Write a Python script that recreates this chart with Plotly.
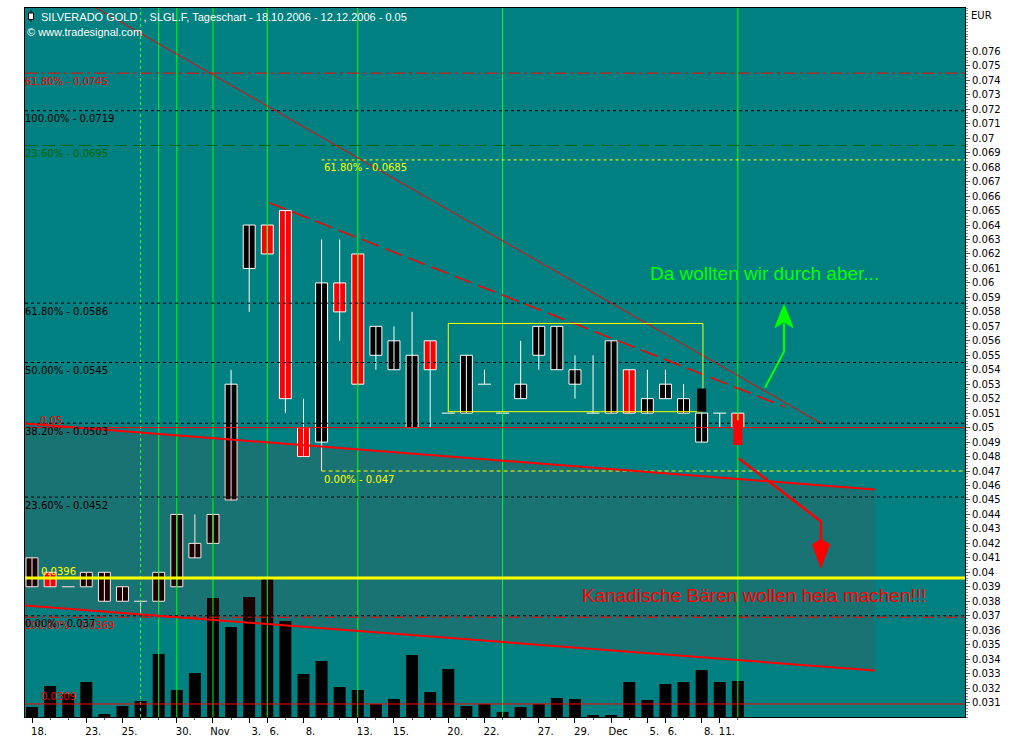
import plotly.graph_objects as go

# ---------------- data ----------------
dates = ["2006-10-18", "2006-10-19", "2006-10-20", "2006-10-23", "2006-10-24", "2006-10-25",
         "2006-10-26", "2006-10-27", "2006-10-30", "2006-10-31", "2006-11-01", "2006-11-02",
         "2006-11-03", "2006-11-06", "2006-11-07", "2006-11-08", "2006-11-09", "2006-11-10",
         "2006-11-13", "2006-11-14", "2006-11-15", "2006-11-16", "2006-11-17", "2006-11-20",
         "2006-11-21", "2006-11-22", "2006-11-23", "2006-11-24", "2006-11-27", "2006-11-28",
         "2006-11-29", "2006-11-30", "2006-12-01", "2006-12-04", "2006-12-05", "2006-12-06",
         "2006-12-07", "2006-12-08", "2006-12-11", "2006-12-12"]
open_ = [0.039, 0.040, 0.039, 0.039, 0.038, 0.038, 0.038, 0.038, 0.039, 0.041,
         0.042, 0.045, 0.061, 0.064, 0.065, 0.050, 0.049, 0.060, 0.062, 0.055,
         0.054, 0.050, 0.056, 0.051, 0.051, 0.053, 0.051, 0.052, 0.055, 0.054,
         0.053, 0.051, 0.051, 0.054, 0.051, 0.052, 0.051, 0.049, 0.051, 0.051]
high = [0.041, 0.040, 0.039, 0.040, 0.040, 0.039, 0.038, 0.040, 0.044, 0.044,
        0.044, 0.054, 0.064, 0.064, 0.065, 0.052, 0.063, 0.063, 0.062, 0.057,
        0.057, 0.058, 0.056, 0.051, 0.055, 0.054, 0.051, 0.056, 0.057, 0.057,
        0.055, 0.055, 0.056, 0.054, 0.054, 0.054, 0.053, 0.051, 0.051, 0.051]
low = [0.039, 0.039, 0.039, 0.039, 0.038, 0.038, 0.037, 0.038, 0.039, 0.041,
       0.042, 0.045, 0.058, 0.062, 0.051, 0.048, 0.047, 0.056, 0.053, 0.054,
       0.054, 0.050, 0.050, 0.051, 0.051, 0.053, 0.051, 0.052, 0.054, 0.054,
       0.052, 0.051, 0.051, 0.051, 0.051, 0.052, 0.051, 0.049, 0.050, 0.050]
close = [0.041, 0.039, 0.039, 0.040, 0.040, 0.039, 0.038, 0.040, 0.044, 0.042,
         0.044, 0.053, 0.064, 0.062, 0.052, 0.048, 0.060, 0.058, 0.053, 0.057,
         0.056, 0.055, 0.054, 0.051, 0.055, 0.053, 0.051, 0.053, 0.057, 0.057,
         0.054, 0.051, 0.056, 0.051, 0.052, 0.053, 0.052, 0.051, 0.051, 0.050]
volume_k = [10, 31, 23, 35, 3, 11, 16, 63, 27, 44, 119, 90, 120, 140, 96, 43, 56, 30, 27, 13,
            18, 62, 25, 48, 11, 13, 5, 10, 13, 19, 18, 2, 2, 35, 17, 33, 35, 47, 35, 36]

tick_dates = ["2006-10-18", "2006-10-23", "2006-10-25", "2006-10-30", "2006-11-01", "2006-11-03",
              "2006-11-06", "2006-11-08", "2006-11-13", "2006-11-15", "2006-11-20", "2006-11-22",
              "2006-11-27", "2006-11-29", "2006-12-01", "2006-12-05", "2006-12-06", "2006-12-08",
              "2006-12-11"]
tick_text = ["18.", "23.", "25.", "30.", "Nov", "3.", "6.", "8.", "13.", "15.", "20.", "22.",
             "27.", "29.", "Dec", "5.", "6.", "8.", "11."]

marker_dates = ["2006-10-27", "2006-10-30", "2006-11-01", "2006-11-06", "2006-11-13",
                "2006-11-23", "2006-12-12"]
dashed_marker_dates = ["2006-10-26"]

fib_levels = [0.0745, 0.0719, 0.0695, 0.0685, 0.0586, 0.0545, 0.0503, 0.05, 0.047,
              0.0452, 0.0396, 0.0369, 0.037, 0.0309]
fib_labels = ["61.80% - 0.0745", "100.00% - 0.0719", "23.60% - 0.0695", "61.80% - 0.0685",
              "61.80% - 0.0586", "50.00% - 0.0545", "38.20% - 0.0503", "0.05", "0.00% - 0.047",
              "23.60% - 0.0452", "0.0396", "100.00% - 0.0369", "0.00% - 0.037", "0.0309"]

# drawing-tool anchors: (date index, price)
trend_a = [(3.48, 0.07905), (43.65, 0.05026)]
trend_b = [(13.09, 0.06555), (41.6, 0.05143)]
channel_up = [(-0.39, 0.05029), (46.57, 0.04572)]
channel_dn = [(-0.39, 0.03771), (46.57, 0.03321)]
box = [(23, 0.0511), (37.07, 0.0572)]

# ---------------- styles ----------------
RED = "#ff0000"
YEL = "#ffff00"
GRN = "#00ff00"
DKG = "#006400"
BLK = "#000000"
DASH = "3px,3px"
FONT = "DejaVu Sans"

level_style = {
    0.0745: dict(color=RED, dash="12px,4px,3px,4px", width=1, start=None, lab="below", lx=None),
    0.0719: dict(color=BLK, dash=DASH, width=1, start=None, lab="below", lx=None),
    0.0695: dict(color=DKG, dash="12px,6px", width=1, start=None, lab="below", lx=None),
    0.0685: dict(color=YEL, dash=DASH, width=1, start=16, lab="below", lx=16),
    0.0586: dict(color=BLK, dash=DASH, width=1, start=None, lab="below", lx=None),
    0.0545: dict(color=BLK, dash=DASH, width=1, start=None, lab="below", lx=None),
    0.0503: dict(color=BLK, dash=DASH, width=1, start=None, lab="below", lx=None),
    0.05: dict(color=RED, dash="solid", width=1, start=None, lab="above", lx=0.35),
    0.047: dict(color=YEL, dash="4px,3px", width=1, start=16, lab="below", lx=16),
    0.0452: dict(color=BLK, dash=DASH, width=1, start=None, lab="below", lx=None),
    0.0396: dict(color=YEL, dash="solid", width=3, start=None, lab="above", lx=0.4),
    0.0369: dict(color=RED, dash="12px,4px,3px,4px", width=1, start=None, lab="below", lx=None),
    0.037: dict(color=BLK, dash=DASH, width=1, start=None, lab="below", lx=None),
    0.0309: dict(color=RED, dash="solid", width=1, start=None, lab="above", lx=0.4),
}

n = len(dates)
xi = list(range(n))
pos = {d: i for i, d in enumerate(dates)}
XMIN, XMAX = -0.387, 51.55
BODY_W = 0.66

fig = go.Figure()

# volume
fig.add_trace(go.Bar(x=xi, y=volume_k, yaxis="y2", width=BODY_W,
                     marker=dict(color=BLK, line=dict(width=0)), hoverinfo="skip"))

# wicks
wx, wy = [], []
for i in xi:
    if high[i] > low[i]:
        wx += [i, i, None]
        wy += [low[i], high[i], None]
fig.add_trace(go.Scatter(x=wx, y=wy, mode="lines", line=dict(color="white", width=1),
                         hoverinfo="skip"))

# bodies
bx, bh, bb, bc = [], [], [], []
dx, dy = [], []
for i in xi:
    if close[i] != open_[i]:
        bx.append(i)
        bh.append(abs(close[i] - open_[i]))
        bb.append(min(open_[i], close[i]))
        bc.append(BLK if close[i] > open_[i] else RED)
    else:
        dx += [i - 0.36, i + 0.36, None]
        dy += [open_[i], open_[i], None]
fig.add_trace(go.Bar(x=bx, y=bh, base=bb, width=BODY_W,
                     marker=dict(color=bc, line=dict(color="white", width=1)), hoverinfo="skip"))
fig.add_trace(go.Scatter(x=dx, y=dy, mode="lines", line=dict(color="white", width=1),
                         hoverinfo="skip"))

shapes = []
# shaded channel (semi transparent red overlay)
shapes.append(dict(type="path", xref="x", yref="y", layer="above",
                   path=f"M {channel_up[0][0]},{channel_up[0][1]} L {channel_up[1][0]},{channel_up[1][1]} "
                        f"L {channel_dn[1][0]},{channel_dn[1][1]} L {channel_dn[0][0]},{channel_dn[0][1]} Z",
                   fillcolor="rgba(255,0,0,0.1)", line=dict(width=0)))

# vertical markers
for d in marker_dates:
    shapes.append(dict(type="line", xref="x", yref="paper", x0=pos[d], x1=pos[d], y0=0, y1=1,
                       layer="above", line=dict(color=GRN, width=1)))
for d in dashed_marker_dates:
    shapes.append(dict(type="line", xref="x", yref="paper", x0=pos[d], x1=pos[d], y0=0, y1=1,
                       layer="above", line=dict(color="#33ff33", width=1, dash="3px,3px")))

# horizontal levels
annotations = []
for lvl, lab in zip(fib_levels, fib_labels):
    st = level_style[lvl]
    x0 = st["start"] if st["start"] is not None else XMIN
    shapes.append(dict(type="line", xref="x", yref="y", x0=x0, x1=XMAX, y0=lvl, y1=lvl,
                       layer="above", line=dict(color=st["color"], width=st["width"], dash=st["dash"])))
    lab_col = st["color"]
    if st["lx"] is None:
        ax = dict(xref="paper", x=0, xshift=-2)
    else:
        ax = dict(xref="x", x=st["lx"])
    annotations.append(dict(text=lab, yref="y", y=lvl, xanchor="left", yanchor="middle",
                            yshift=-8 if st["lab"] == "below" else 7, showarrow=False,
                            font=dict(family=FONT, size=10, color=lab_col), **ax))

# trend lines
shapes.append(dict(type="line", xref="x", yref="y", x0=trend_a[0][0], y0=trend_a[0][1],
                   x1=trend_a[1][0], y1=trend_a[1][1], layer="above",
                   line=dict(color=RED, width=1)))
shapes.append(dict(type="line", xref="x", yref="y", x0=trend_b[0][0], y0=trend_b[0][1],
                   x1=trend_b[1][0], y1=trend_b[1][1], layer="above",
                   line=dict(color=RED, width=1.5, dash="18px,7px")))
for ch in (channel_up, channel_dn):
    shapes.append(dict(type="line", xref="x", yref="y", x0=ch[0][0], y0=ch[0][1],
                       x1=ch[1][0], y1=ch[1][1], layer="above",
                       line=dict(color=RED, width=2)))

# yellow consolidation box
shapes.append(dict(type="rect", xref="x", yref="y", x0=box[0][0], y0=box[0][1],
                   x1=box[1][0], y1=box[1][1], layer="above",
                   line=dict(color=YEL, width=1), fillcolor="rgba(0,0,0,0)"))

# hand-drawn marker strokes
shapes.append(dict(type="rect", xref="x", yref="y", x0=pos["2006-12-08"] - 0.25, x1=pos["2006-12-08"] + 0.25,
                   y0=0.0511, y1=0.0527, layer="above", fillcolor=BLK, line=dict(width=0)))
shapes.append(dict(type="rect", xref="x", yref="y", x0=pos["2006-12-12"] - 0.25, x1=pos["2006-12-12"] + 0.25,
                   y0=0.0488, y1=0.0505, layer="above", fillcolor=RED, line=dict(width=0)))

# green arrow
shapes.append(dict(type="path", xref="x", yref="y", layer="above",
                   path="M 40.50,0.05277 L 41.55,0.05524 L 41.55,0.0572",
                   line=dict(color=GRN, width=2)))
shapes.append(dict(type="path", xref="x", yref="y", layer="above",
                   path="M 41.55,0.05849 L 41.05,0.05692 L 41.55,0.0573 L 42.05,0.05692 Z",
                   fillcolor=GRN, line=dict(color=GRN, width=1)))
# red arrow
shapes.append(dict(type="path", xref="x", yref="y", layer="above",
                   path="M 39.06,0.04787 L 43.59,0.04351 L 43.59,0.0421",
                   line=dict(color=RED, width=2.5)))
shapes.append(dict(type="path", xref="x", yref="y", layer="above",
                   path="M 43.59,0.04033 L 43.12,0.04192 L 43.59,0.04227 L 44.06,0.04192 Z",
                   fillcolor=RED, line=dict(color=RED, width=1)))


def px(xp, yp):
    return (xp - 25) / 940.0, (717 - yp) / 709.0


# title icon
ix0, iy0 = px(28.5, 13)
ix1, iy1 = px(33.5, 19.5)
wx0, wy0 = px(31, 10)
wx1, wy1 = px(31, 22)
shapes.append(dict(type="line", xref="paper", yref="paper", x0=wx0, x1=wx1, y0=wy0, y1=wy1,
                   line=dict(color=BLK, width=1)))
shapes.append(dict(type="rect", xref="paper", yref="paper", x0=ix0, x1=ix1, y0=iy0, y1=iy1,
                   fillcolor="white", line=dict(color=BLK, width=1)))

tx, ty = px(39, 17)
annotations.append(dict(text="SILVERADO GOLD  , SLGL.F, Tageschart - 18.10.2006 - 12.12.2006 - 0.05",
                        xref="paper", yref="paper", x=tx, y=ty, xanchor="left", yanchor="middle",
                        showarrow=False, font=dict(family="Liberation Sans", size=11, color="white")))
tx, ty = px(25, 32)
annotations.append(dict(text="© www.tradesignal.com", xref="paper", yref="paper", x=tx, y=ty,
                        xanchor="left", yanchor="middle", showarrow=False,
                        font=dict(family="Liberation Sans", size=11, color="white")))
tx, ty = px(969, 16)
annotations.append(dict(text="EUR", xref="paper", yref="paper", x=tx, y=ty, xanchor="left",
                        yanchor="middle", showarrow=False, font=dict(family=FONT, size=10, color=BLK)))
tx, ty = px(764, 273)
annotations.append(dict(text="Da wollten wir durch aber...", xref="paper", yref="paper", x=tx, y=ty,
                        xanchor="center", yanchor="middle", showarrow=False,
                        font=dict(family="Liberation Sans", size=19, color=GRN)))
tx, ty = px(754, 595)
annotations.append(dict(text="Kanadische Bären wollen heia machen!!!", xref="paper", yref="paper",
                        x=tx, y=ty, xanchor="center", yanchor="middle", showarrow=False,
                        font=dict(family="Liberation Sans", size=19, color=RED)))

ytick_vals = [round(0.031 + k * 0.001, 3) for k in range(46)]
ytick_text = [f"{v:.3f}".rstrip("0") for v in ytick_vals]

fig.update_layout(
    width=1024, height=750,
    margin=dict(l=25, r=59, t=8, b=33),
    paper_bgcolor="white", plot_bgcolor="#008080",
    showlegend=False, barmode="overlay",
    shapes=shapes, annotations=annotations,
    xaxis=dict(range=[XMIN, XMAX], tickmode="array",
               tickvals=[pos[d] for d in tick_dates], ticktext=tick_text,
               ticks="outside", ticklen=5, tickcolor=BLK, tickwidth=1,
               showline=True, linecolor=BLK, linewidth=1, mirror=True,
               showgrid=False, zeroline=False, ticklabelshift=7,
               tickfont=dict(family=FONT, size=10, color=BLK),
               minor=dict(tickmode="array", tickvals=xi, ticks="outside", ticklen=2,
                          tickcolor="#555555")),
    yaxis=dict(range=[0.0300, 0.0790], side="right", tickmode="array",
               tickvals=ytick_vals, ticktext=ytick_text,
               ticks="outside", ticklen=4, tickcolor="#555555",
               showline=True, linecolor=BLK, linewidth=1, mirror=True,
               showgrid=False, zeroline=False,
               tickfont=dict(family=FONT, size=10, color=BLK),
               minor=dict(dtick=0.0002, tick0=0.03, ticks="outside", ticklen=2,
                          tickcolor="#888888")),
    yaxis2=dict(overlaying="y", range=[0, 709], visible=False),
)

fig.write_html("out.html", config={"displayModeBar": False},
               post_script="document.body.style.margin='0';document.body.style.overflow='hidden';")
